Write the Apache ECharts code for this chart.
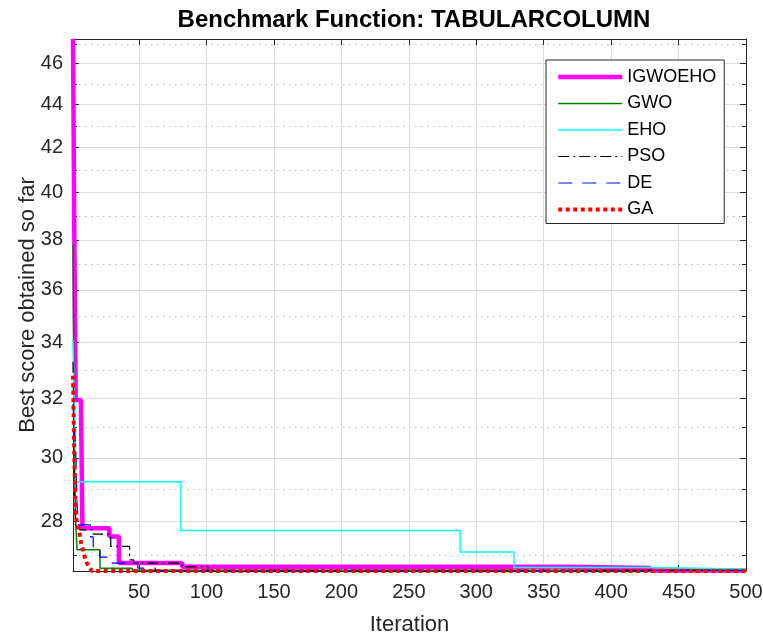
<!DOCTYPE html>
<html><head><meta charset="utf-8">
<script src="https://cdn.jsdelivr.net/npm/echarts@6/dist/echarts.min.js"></script>
<style>html,body{margin:0;padding:0;background:#fff}#c{width:763px;height:635px}</style>
</head><body><div id="c"></div>
<script>
// ---- data (change points: iteration where the best-so-far value starts, value) ----
const seriesNames = ['IGWOEHO', 'GWO', 'EHO', 'PSO', 'DE', 'GA'];

const igwoehoIter = [1, 2, 3, 7, 8, 28, 35, 82, 368, 429, 500];
const igwoehoVal  = [47.25, 38.0, 31.95, 31.4, 27.8, 27.55, 26.77, 26.66, 26.63, 26.555, 26.555];

const gwoIter = [1, 2, 3, 4, 21, 45, 500];
const gwoVal  = [37.8, 30.0, 27.96, 27.16, 26.62, 26.56, 26.56];

const ehoIter = [1, 2, 3, 81, 288, 328, 430, 500];
const ehoVal  = [34.1, 31.3, 29.24, 27.73, 27.09, 26.64, 26.6, 26.6];

const psoIter = [1, 2, 3, 6, 16, 29, 43, 46, 82, 101, 500];
const psoVal  = [33.3, 29.0, 27.85, 27.75, 27.62, 27.26, 26.86, 26.77, 26.66, 26.56, 26.56];

const deIter = [1, 2, 3, 4, 5, 14, 16, 21, 30, 49, 62, 500];
const deVal  = [31.8, 31.0, 30.3, 28.5, 27.9, 27.54, 27.2, 26.94, 26.77, 26.62, 26.555, 26.555];

const gaIter = [1, 2, 3, 4, 5, 6, 7, 8, 9, 10, 11, 12, 13, 14, 15, 500];
const gaVal  = [32.8, 30.0, 28.2, 27.95, 27.8, 27.6, 27.35, 27.2, 27.05, 26.9, 26.8, 26.72, 26.66, 26.6, 26.54, 26.54];

const xTicks = [50, 100, 150, 200, 250, 300, 350, 400, 450, 500];
const yMajorTicks = [28, 30, 32, 34, 36, 38, 40, 42, 44, 46];
const yMinorTicks = [27, 29, 31, 33, 35, 37, 39, 41, 43, 45, 47];
const xMin = 1, xMax = 500, yMin = 26.54, yMax = 47.25;

// ---- styles ----
const FONT = '"Liberation Sans", Arial, Helvetica, sans-serif';
const TXT = '#262626';
const styles = [
  { color: '#FF00FF', width: 4.5, type: 'solid' },
  { color: '#008000', width: 1.5, type: 'solid' },
  { color: '#00FFFF', width: 1.5, type: 'solid' },
  { color: '#000000', width: 1.2, type: [11, 4, 2, 4] },
  { color: '#0000FF', width: 1.2, type: [14, 10] },
  { color: '#FF0000', width: 4,   type: [4, 3.5] }
];
const iters = [igwoehoIter, gwoIter, ehoIter, psoIter, deIter, gaIter];
const vals  = [igwoehoVal, gwoVal, ehoVal, psoVal, deVal, gaVal];

const series = seriesNames.map((n, i) => ({
  name: n, type: 'line', step: 'end', symbol: 'none', showSymbol: false,
  xAxisIndex: 0, yAxisIndex: 0, animation: false,
  lineStyle: { color: styles[i].color, width: styles[i].width, type: styles[i].type, cap: 'butt' },
  itemStyle: { color: styles[i].color },
  data: iters[i].map((x, k) => [x, vals[i][k]])
}));

const axisLineStyle = { color: TXT, width: 1 };
function xAx(pos, labels) {
  return {
    type: 'value', min: xMin, max: xMax, position: pos,
    axisLine: { show: true, onZero: false, lineStyle: axisLineStyle },
    axisTick: { show: true, inside: true, length: 6, customValues: xTicks, lineStyle: axisLineStyle },
    axisLabel: { show: labels, customValues: xTicks, fontSize: 20, color: TXT, fontFamily: FONT, margin: 11 },
    splitLine: { show: labels, lineStyle: { color: '#dcdcdc', width: 1 } },
    name: labels ? 'Iteration' : '', nameLocation: 'middle', nameGap: 43,
    nameMoveOverlap: false,
    nameTextStyle: { fontSize: 22, color: TXT, fontFamily: FONT }
  };
}
function yAx(pos, ticks, major, labels, grid) {
  return {
    type: 'log', logBase: 10, min: yMin, max: yMax, position: pos,
    axisLine: { show: major, onZero: false, lineStyle: axisLineStyle },
    axisTick: { show: true, inside: true, length: major ? 6 : 4, customValues: ticks, lineStyle: axisLineStyle },
    axisLabel: { show: labels, customValues: ticks, fontSize: 20, color: TXT, fontFamily: FONT, margin: 10 },
    splitLine: { show: grid, lineStyle: major ? { color: '#dcdcdc', width: 1 } : { color: '#b8b8b8', width: 1.2, type: [1.5, 4.5] } },
    minorTick: { show: false }, minorSplitLine: { show: false },
    name: labels ? 'Best score obtained so far' : '', nameLocation: 'middle', nameGap: 34,
    nameMoveOverlap: false,
    nameTextStyle: { fontSize: 22, color: TXT, fontFamily: FONT }
  };
}

const chart = echarts.init(document.getElementById('c'), null, { renderer: 'canvas' });
chart.setOption({
  animation: false,
  backgroundColor: '#ffffff',
  title: {
    text: 'Benchmark Function: TABULARCOLUMN', left: 409, top: 3, textAlign: 'center',
    textStyle: { fontSize: 24, fontWeight: 'bold', color: '#000', fontFamily: FONT }
  },
  grid: { left: 73, right: 17, top: 39, bottom: 64, containLabel: false, outerBoundsMode: 'none' },
  legend: {
    orient: 'vertical', left: 546, top: 60,
    backgroundColor: '#ffffff', borderColor: TXT, borderWidth: 1,
    padding: [8, 8, 5, 10], itemWidth: 64, itemHeight: 14, itemGap: 8.5,
    textStyle: { fontSize: 18, color: '#000', fontFamily: FONT },
    itemStyle: { opacity: 0 },
    data: seriesNames.map((n, i) => ({
      name: n,
      lineStyle: { color: styles[i].color, width: styles[i].width, type: styles[i].type, cap: 'butt' }
    }))
  },
  xAxis: [xAx('bottom', true), xAx('top', false)],
  yAxis: [
    yAx('left', yMajorTicks, true, true, true),
    yAx('left', yMinorTicks, false, false, true),
    yAx('right', yMajorTicks, true, false, false),
    yAx('right', yMinorTicks, false, false, false)
  ],
  series: series
});
</script>
</body></html>
